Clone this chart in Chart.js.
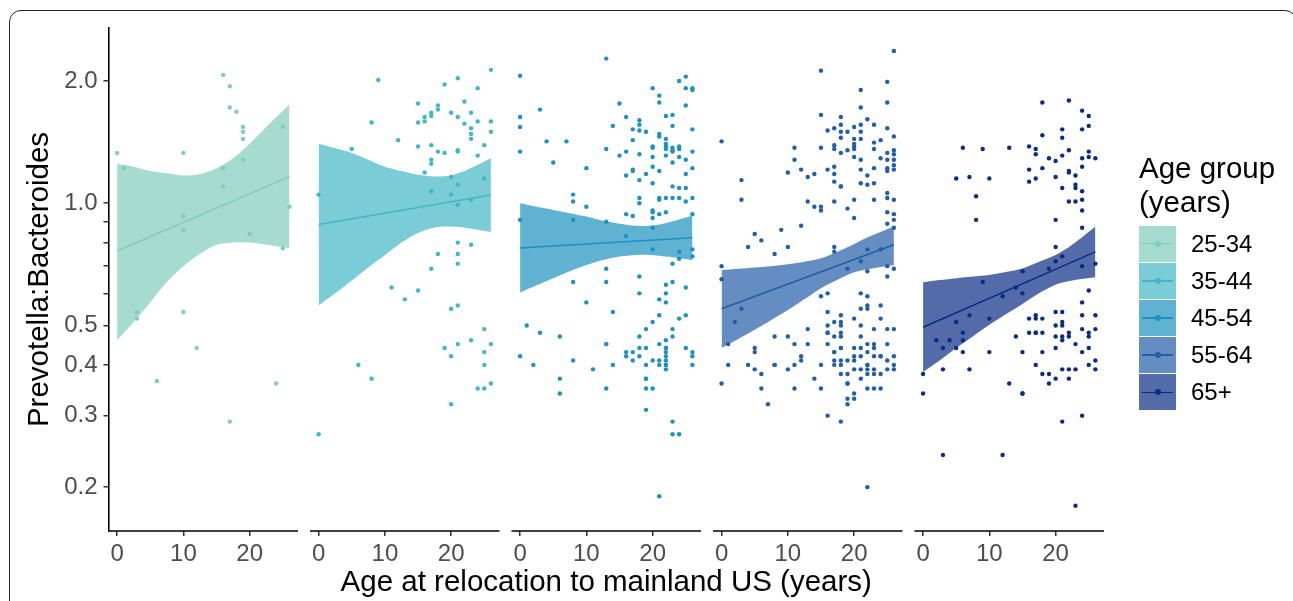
<!DOCTYPE html>
<html>
<head>
<meta charset="utf-8">
<script src="https://cdn.jsdelivr.net/npm/chart.js@4.4.0/dist/chart.umd.min.js"></script>
<style>
  html, body { margin: 0; padding: 0; background: #fff; overflow: hidden; }
  #wrap { position: relative; width: 1293px; height: 601px; font-family: "Liberation Sans", Arial, sans-serif; }
  #frame { position: absolute; left: 9px; top: 10px; width: 1288px; height: 640px; border: 1.6px solid #222; border-radius: 12px; box-sizing: border-box; }
  #chart { position: absolute; left: 0; top: 0; }
  #legend { position: absolute; left: 1139px; top: 151px; color: #000; }
  #legend .title { font-size: 29.5px; line-height: 34px; margin-bottom: 6px; }
  #legend .row { display: flex; align-items: center; height: 37.2px; }
  #legend .key { position: relative; width: 37px; height: 36px; }
  #legend .key .ln { position: absolute; left: 3px; right: 3px; top: 17.2px; height: 1.6px; }
  #legend .key .dt { position: absolute; left: 15.5px; top: 15px; width: 6px; height: 6px; border-radius: 50%; }
  #legend .lab { font-size: 24px; margin-left: 15px; }
</style>
</head>
<body>
<div id="wrap">
  <div id="frame"></div>
  <canvas id="chart" width="1293" height="601"></canvas>
  <div id="legend">
    <div class="title">Age group<br>(years)</div>
    <div id="keys"></div>
  </div>
</div>
<script>
// age groups and their colours
const groups = ["25-34", "35-44", "45-54", "55-64", "65+"];
const colors = ["#7fcdbb", "#41b6c4", "#1d91c0", "#225ea8", "#0c2c84"];
const bandFills = ["rgba(127,205,187,0.7)", "rgba(65,182,196,0.7)", "rgba(29,145,192,0.7)", "rgba(34,94,168,0.7)", "rgba(12,44,132,0.7)"];

// axis ticks
const xTicks = [0, 10, 20];
const yTicks = [0.2, 0.3, 0.4, 0.5, 0.6, 0.7, 0.8, 0.9, 1, 2];
const yLabels = { 0.2: "0.2", 0.3: "0.3", 0.4: "0.4", 0.5: "0.5", 1: "1.0", 2: "2.0" };

// Prevotella:Bacteroides ratio, listed by age at relocation (index = age 0..26)
const ratio25 = [
  [1.33], [1.22], [], [0.54, 0.52], [], [], [0.365], [], [], [],
  [1.33, 0.93, 0.86, 0.54], [], [0.44], [], [], [],
  [2.07, 1.22, 1.10], [1.94, 1.72, 0.29], [1.68], [1.54, 1.50, 1.44, 1.28], [0.84],
  [], [], [], [0.36], [1.54, 0.775], [0.98]
];
const ratio35 = [
  [1.05, 0.27], [], [], [], [], [1.36], [0.40], [], [1.58, 0.37], [2.01], [],
  [0.62], [1.43], [0.58], [], [1.76, 1.58, 1.38, 0.61], [1.63, 1.59, 1.19],
  [1.67, 1.64, 1.39, 1.28, 1.25, 1.07, 0.69], [1.74, 1.70, 1.34, 0.75], [1.96, 1.33, 0.44],
  [1.67, 1.16, 1.05, 0.55, 0.42, 0.32],
  [2.03, 1.63, 1.35, 1.34, 1.11, 0.99, 0.80, 0.75, 0.71, 0.56, 0.45],
  [1.78, 1.57], [1.67, 1.53, 1.48, 1.44, 1.02, 0.79, 0.46], [1.92, 1.59, 1.31, 0.35],
  [1.39, 1.15, 0.49, 0.43, 0.40, 0.35], [2.13, 1.59, 1.50, 0.45, 0.36]
];
const ratio45 = [
  [2.06, 1.63, 1.54, 1.34, 0.91, 0.42], [0.50], [0.40], [1.70, 0.48], [1.42], [1.26],
  [0.47, 0.37, 0.34], [1.42], [1.05, 1.01, 0.91, 0.64, 0.41], [], [1.22, 0.98, 0.57],
  [0.39], [], [2.27, 1.36, 0.90, 0.69, 0.64, 0.45, 0.45, 0.35], [1.55, 0.54, 0.40],
  [1.76, 1.31], [1.63, 1.34, 1.17, 0.94, 0.83, 0.43, 0.42],
  [1.52, 1.43, 1.21, 1.20, 0.93, 0.43, 0.41],
  [1.60, 1.56, 1.51, 1.32, 1.14, 1.03, 1.00, 0.66, 0.60, 0.47, 0.44, 0.42],
  [1.50, 1.18, 0.49, 0.44, 0.40, 0.37, 0.37, 0.35, 0.31],
  [1.92, 1.38, 1.37, 1.30, 1.23, 1.12, 0.96, 0.95, 0.92, 0.87, 0.77, 0.51, 0.41, 0.35],
  [1.84, 1.77, 1.48, 1.46, 1.20, 1.03, 1.02, 0.94, 0.58, 0.53, 0.45, 0.41, 0.40, 0.19],
  [1.64, 1.44, 1.40, 1.38, 1.36, 1.31, 1.03, 0.95, 0.63, 0.60, 0.57, 0.46, 0.44, 0.44, 0.43, 0.42, 0.41, 0.40, 0.40, 0.39],
  [1.65, 1.55, 1.37, 1.35, 1.34, 1.26, 1.10, 1.03, 0.71, 0.64, 0.49, 0.47, 0.29, 0.27],
  [2.00, 1.38, 1.36, 1.30, 1.09, 1.03, 0.76, 0.73, 0.52, 0.27],
  [2.05, 1.92, 1.74, 1.28, 1.18, 1.09, 1.01, 0.62, 0.53, 0.44],
  [1.92, 1.90, 1.52, 1.34, 1.22, 1.03, 0.94, 0.77, 0.74, 0.43, 0.42, 0.40]
];
const ratio55 = [
  [1.42, 0.70, 0.65, 0.36], [0.45, 0.40], [0.51], [1.14, 1.02, 0.55], [0.78, 0.40],
  [0.84, 0.44, 0.43, 0.39], [0.81, 0.38, 0.35], [0.32], [0.75, 0.47, 0.40, 0.40], [0.86],
  [1.19, 0.78, 0.47, 0.39], [1.37, 1.28, 0.45, 0.40, 0.35], [1.21, 0.88, 0.42, 0.41],
  [1.16, 1.01, 0.49, 0.45], [1.18, 0.98, 0.37],
  [2.12, 1.65, 1.37, 0.98, 0.96, 0.59, 0.40, 0.35],
  [1.51, 1.21, 0.60, 0.54, 0.50, 0.48, 0.48, 0.45, 0.30],
  [1.53, 1.39, 1.36, 1.23, 1.18, 1.13, 1.01, 0.78, 0.76, 0.51, 0.47, 0.43, 0.43, 0.41, 0.40],
  [1.63, 1.56, 1.50, 1.45, 1.33, 1.10, 1.10, 0.53, 0.51, 0.50, 0.48, 0.47, 0.44, 0.44, 0.41, 0.40, 0.38, 0.29],
  [1.50, 1.35, 0.97, 0.69, 0.41, 0.38, 0.36, 0.36, 0.33, 0.32],
  [1.54, 1.44, 1.40, 1.38, 1.36, 1.30, 1.02, 0.92, 0.52, 0.44, 0.42, 0.41, 0.39, 0.34, 0.33],
  [1.90, 1.72, 1.56, 1.50, 1.44, 1.28, 1.21, 1.12, 0.72, 0.60, 0.55, 0.50, 0.47, 0.44, 0.42, 0.39, 0.37],
  [1.61, 1.17, 1.11, 0.77, 0.68, 0.59, 0.56, 0.55, 0.45, 0.43, 0.40, 0.40, 0.39, 0.38, 0.35, 0.20],
  [1.56, 1.41, 1.36, 1.22, 1.12, 1.02, 0.49, 0.45, 0.44, 0.42, 0.39, 0.38, 0.35],
  [1.43, 1.29, 0.77, 0.56, 0.52, 0.42, 0.42, 0.38, 0.35],
  [1.99, 1.77, 1.53, 1.33, 1.28, 1.22, 1.20, 1.06, 1.03, 0.95, 0.89, 0.70, 0.66, 0.49, 0.45, 0.41, 0.39],
  [2.37, 1.46, 1.35, 1.32, 1.28, 1.24, 1.21, 1.02, 0.94, 0.91, 0.87, 0.69, 0.49, 0.42, 0.40, 0.39]
];
const ratio65 = [
  [0.38, 0.34], [], [0.46], [0.44, 0.39, 0.24], [0.46], [1.15, 0.51, 0.44],
  [1.37, 0.48, 0.46, 0.43], [1.16, 0.53, 0.39], [1.04, 0.91], [1.36, 0.64],
  [1.15, 0.52, 0.43], [], [0.59, 0.24], [1.37, 0.36], [0.62, 0.47],
  [0.68, 0.60, 0.43, 0.34, 0.34], [1.38, 1.21, 1.13, 0.52, 0.48],
  [1.36, 1.32, 1.15, 0.53, 0.52, 0.48, 0.48, 0.40], [1.77, 1.47, 1.22, 0.52, 0.48, 0.43, 0.38],
  [1.29, 0.69, 0.38, 0.36], [1.27, 1.16, 0.91, 0.78, 0.72, 0.54, 0.50, 0.47, 0.44, 0.37],
  [1.52, 1.45, 1.31, 1.09, 0.74, 0.54, 0.51, 0.50, 0.47, 0.46, 0.39, 0.29],
  [1.79, 1.35, 1.20, 1.19, 1.01, 0.48, 0.47, 0.39, 0.37],
  [1.17, 1.11, 1.09, 1.01, 0.45, 0.39, 0.18],
  [1.69, 1.52, 1.29, 1.23, 1.07, 1.02, 0.96, 0.87, 0.70, 0.57, 0.53, 0.49, 0.43, 0.30],
  [1.64, 1.55, 1.34, 1.30, 0.61, 0.48, 0.47, 0.44, 0.40],
  [1.29, 0.71, 0.53, 0.49, 0.41, 0.39]
];

// fitted trend (at age 0 and age 26) and its confidence band
const fitAges = [0, 26];
const fit25 = [0.763, 1.163];
const fit35 = [0.886, 1.048];
const fit45 = [0.776, 0.822];
const fit55 = [0.55, 0.79];
const fit65 = [0.495, 0.759];

const bandAges = [0, 2.5, 5, 7.5, 10, 12.5, 15, 17.5, 20, 22.5, 26];
const upper25 = [1.25, 1.23, 1.20, 1.185, 1.17, 1.18, 1.22, 1.29, 1.40, 1.54, 1.75];
const lower25 = [0.46, 0.51, 0.57, 0.64, 0.70, 0.75, 0.79, 0.80, 0.80, 0.79, 0.775];
const upper35 = [1.40, 1.365, 1.33, 1.28, 1.23, 1.20, 1.175, 1.163, 1.17, 1.21, 1.29];
const lower35 = [0.56, 0.60, 0.645, 0.695, 0.745, 0.80, 0.845, 0.872, 0.876, 0.868, 0.85];
const upper45 = [1.00, 0.98, 0.963, 0.945, 0.927, 0.905, 0.89, 0.88, 0.881, 0.898, 0.933];
const lower45 = [0.603, 0.628, 0.654, 0.68, 0.705, 0.725, 0.739, 0.746, 0.745, 0.738, 0.724];
const upper55 = [0.685, 0.69, 0.695, 0.70, 0.708, 0.718, 0.732, 0.76, 0.794, 0.83, 0.876];
const lower55 = [0.44, 0.463, 0.488, 0.516, 0.546, 0.58, 0.618, 0.648, 0.676, 0.69, 0.705];
const upper65 = [0.639, 0.647, 0.654, 0.66, 0.666, 0.677, 0.691, 0.718, 0.746, 0.79, 0.876];
const lower65 = [0.384, 0.41, 0.44, 0.47, 0.502, 0.533, 0.565, 0.60, 0.63, 0.645, 0.657];

const ratios = [ratio25, ratio35, ratio45, ratio55, ratio65];
const fits = [fit25, fit35, fit45, fit55, fit65];
const uppers = [upper25, upper35, upper45, upper55, upper65];
const lowers = [lower25, lower35, lower45, lower55, lower65];

// facets sit side by side on one x scale, each shifted by PANEL
const PANEL = 30.4;
const XMIN = -1.3, XMAX = 27.3;

const datasets = [];
groups.forEach((g, k) => {
  const shift = k * PANEL;
  const pts = [];
  ratios[k].forEach((vals, age) => vals.forEach(v => pts.push({ x: age + shift, y: v })));
  datasets.push({
    type: "scatter", label: g, data: pts, order: 3,
    backgroundColor: colors[k], borderWidth: 0, pointRadius: 2.2
  });
  datasets.push({
    type: "line", data: bandAges.map((a, i) => ({ x: a + shift, y: lowers[k][i] })), order: 2,
    borderWidth: 0, pointRadius: 0, fill: false, tension: 0.3
  });
  datasets.push({
    type: "line", data: bandAges.map((a, i) => ({ x: a + shift, y: uppers[k][i] })), order: 2,
    borderWidth: 0, pointRadius: 0, fill: "-1", backgroundColor: bandFills[k], tension: 0.3
  });
  datasets.push({
    type: "line", data: fitAges.map((a, i) => ({ x: a + shift, y: fits[k][i] })), order: 1,
    borderColor: colors[k], borderWidth: 1.5, pointRadius: 0, fill: false
  });
});

// x axis line drawn per facet, with gaps between them
const panelAxes = {
  id: "panelAxes",
  afterDraw(chart) {
    const { ctx, chartArea, scales } = chart;
    ctx.save();
    ctx.strokeStyle = "#000";
    ctx.lineWidth = 1.6;
    groups.forEach((g, k) => {
      const x0 = scales.x.getPixelForValue(k * PANEL + XMIN);
      const x1 = scales.x.getPixelForValue(k * PANEL + XMAX);
      ctx.beginPath();
      ctx.moveTo(x0, chartArea.bottom);
      ctx.lineTo(x1, chartArea.bottom);
      ctx.stroke();
    });
    ctx.restore();
  }
};

const tickFont = { family: "'Liberation Sans', Arial, sans-serif", size: 24 };
const titleFont = { family: "'Liberation Sans', Arial, sans-serif", size: 29.5 };

new Chart(document.getElementById("chart"), {
  type: "scatter",
  data: { datasets },
  plugins: [panelAxes],
  options: {
    responsive: false,
    animation: false,
    events: [],
    layout: { padding: { top: 28, right: 189, bottom: 0, left: 0 } },
    plugins: { legend: { display: false }, tooltip: { enabled: false } },
    scales: {
      x: {
        type: "linear",
        min: XMIN,
        max: 4 * PANEL + XMAX,
        afterFit(scale) { scale.height = 70; },
        afterBuildTicks(scale) {
          const t = [];
          groups.forEach((g, k) => xTicks.forEach(v => t.push({ value: v + k * PANEL })));
          scale.ticks = t;
        },
        ticks: {
          autoSkip: false, maxRotation: 0, color: "#4d4d4d", font: tickFont, padding: 4,
          callback(value) {
            const k = Math.floor((value - XMIN) / PANEL);
            return String(Math.round(value - k * PANEL));
          }
        },
        grid: { drawOnChartArea: false, drawTicks: true, tickLength: 5, color: "#333", lineWidth: 1.5 },
        border: { display: false },
        title: { display: true, text: "Age at relocation to mainland US (years)", color: "#000", font: titleFont, padding: { top: 0, bottom: 0 } }
      },
      y: {
        type: "logarithmic",
        min: 0.156,
        max: 2.70,
        afterFit(scale) { scale.width = 108.5; },
        afterBuildTicks(scale) { scale.ticks = yTicks.map(v => ({ value: v })); },
        ticks: {
          autoSkip: false, color: "#4d4d4d", font: tickFont, padding: 6,
          callback(value) { return yLabels[value] !== undefined ? yLabels[value] : ""; }
        },
        grid: { drawOnChartArea: false, drawTicks: true, tickLength: 5, color: "#333", lineWidth: 1.5 },
        border: { display: true, color: "#000", width: 1.6 },
        title: { display: true, text: "Prevotella:Bacteroides", color: "#000", font: titleFont, padding: { top: 22, bottom: 0 } }
      }
    }
  }
});

// legend keys: band fill with the trend line and a point on top
const keys = document.getElementById("keys");
groups.forEach((g, k) => {
  const row = document.createElement("div");
  row.className = "row";
  row.innerHTML = `<div class="key" style="background:${bandFills[k]}">
      <div class="ln" style="background:${colors[k]}"></div>
      <div class="dt" style="background:${colors[k]}"></div>
    </div><div class="lab">${g}</div>`;
  keys.appendChild(row);
});
</script>
</body>
</html>
